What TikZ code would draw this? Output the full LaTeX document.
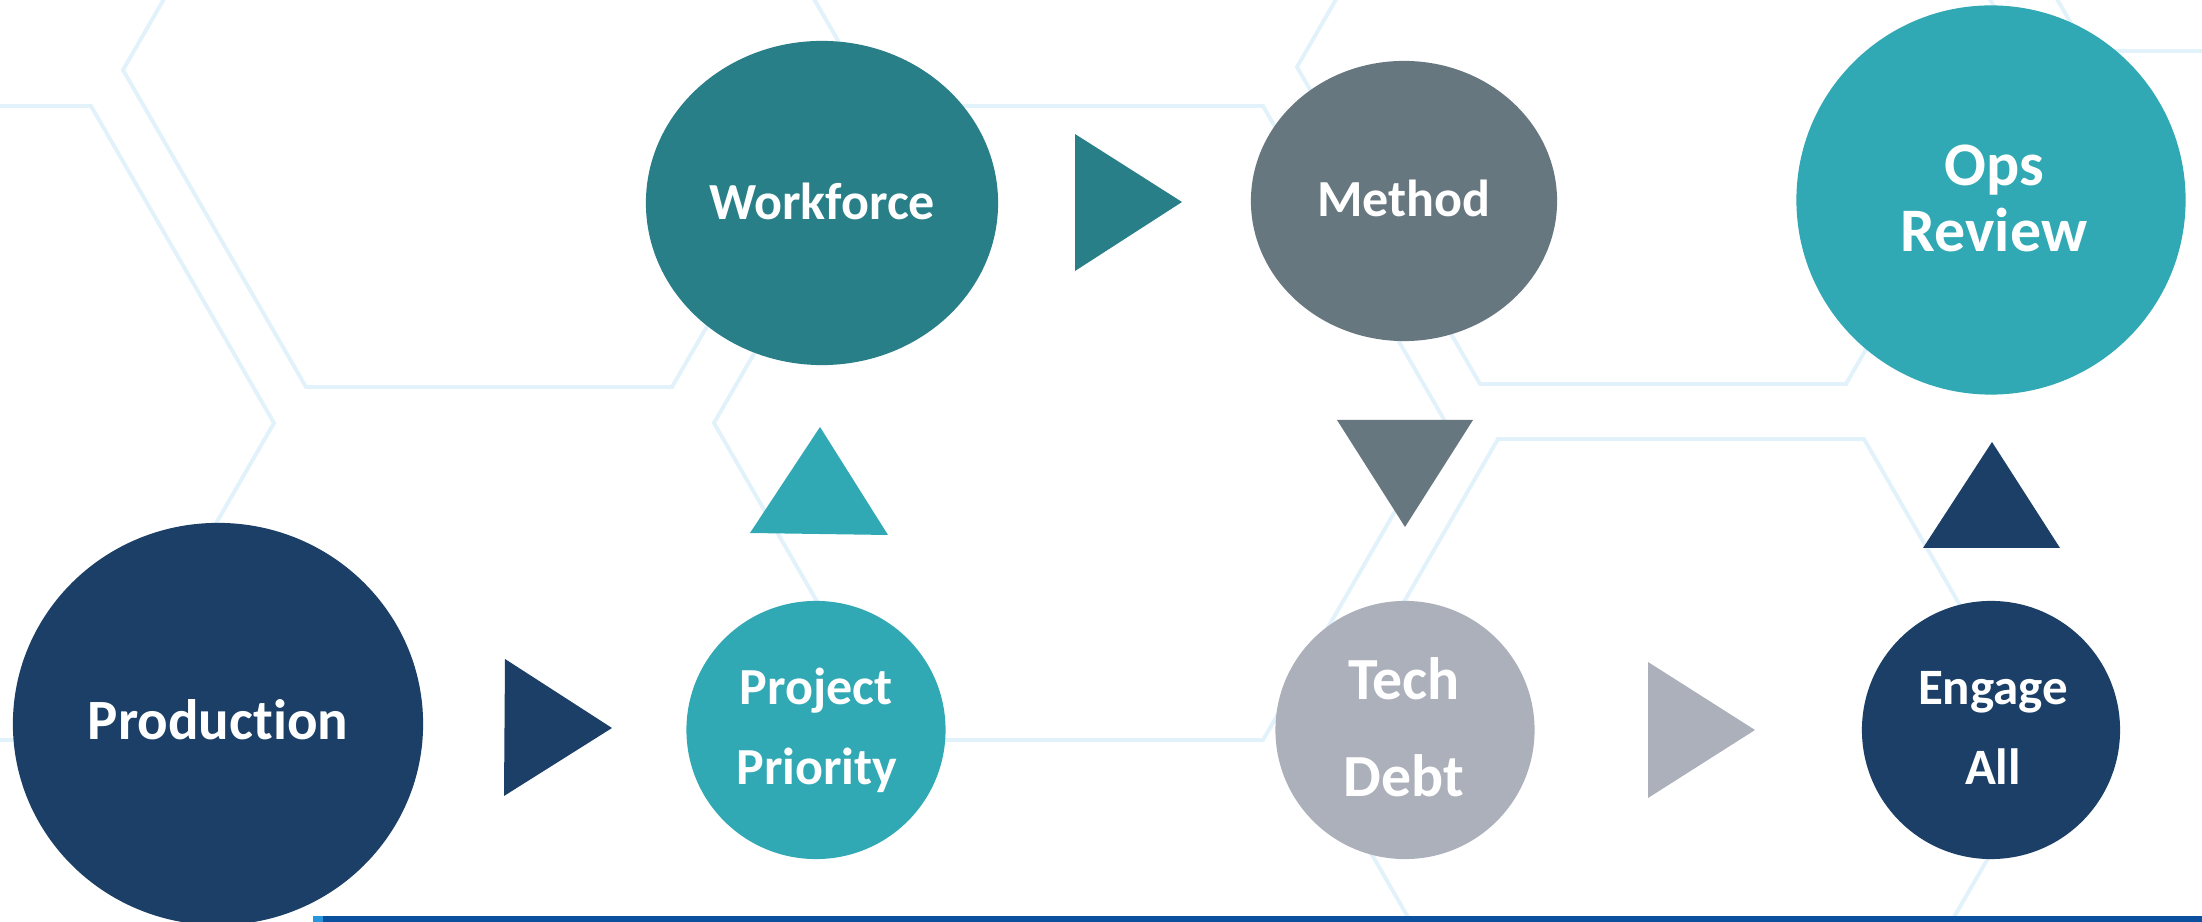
\documentclass[tikz,border=0pt]{standalone}
\usepackage{fontspec}
\setmainfont{Carlito}[Ligatures={NoCommon,NoRequired,NoContextual,NoDiscretionary}]
\usetikzlibrary{shapes.geometric}
\definecolor{navy}{RGB}{27,63,103}
\definecolor{tealdark}{RGB}{41,127,135}
\definecolor{slate}{RGB}{103,119,127}
\definecolor{aqua}{RGB}{48,169,180}
\definecolor{lightgray}{RGB}{172,176,186}
\definecolor{hexblue}{RGB}{226,242,251}
\definecolor{barblue}{RGB}{11,80,158}
\definecolor{barlight}{RGB}{40,150,220}
\newcommand{\hexat}[2]{%
  \draw[hexline] (#1+366,#2) -- (#1+183,#2+317) -- (#1-183,#2+317) -- (#1-366,#2) -- (#1-183,#2-317) -- (#1+183,#2-317) -- cycle;}
\begin{document}
\begin{tikzpicture}[x=0.01cm,y=-0.01cm,
  ell/.style={ellipse, inner sep=0pt, outer sep=0pt, draw=none},
  lbl/.style={text=white, inner sep=0pt, anchor=base},
  hexline/.style={draw=hexblue, line width=1.1pt, line join=miter},
  fs/.style={font=\fontsize{#1}{#1}\selectfont\bfseries}]
\useasboundingbox (0,0) rectangle (2202,922);
\fill[white] (0,0) rectangle (2202,922);
% background hexagons
\begin{scope}
\clip (0,0) rectangle (2202,922);
\hexat{-92}{423}
\hexat{489}{70}
\hexat{1080}{423}
\hexat{1663}{67}
\hexat{1681}{756}
\hexat{2270}{-266}
\end{scope}
% bottom bar
\fill[barblue] (323,916) rectangle (2202,922);
\fill[barlight] (313,916) rectangle (323,922);
% ellipses
\node[ell, fill=navy, minimum width=4.10cm, minimum height=4.02cm] (prod) at (218,724) {};
\node[ell, fill=tealdark, minimum width=3.52cm, minimum height=3.24cm] (work) at (822,203) {};
\node[ell, fill=slate, minimum width=3.06cm, minimum height=2.80cm] (meth) at (1404,201) {};
\node[ell, fill=aqua, minimum width=3.89cm, minimum height=3.89cm] (ops) at (1991,200) {};
\node[ell, fill=aqua, minimum width=2.59cm, minimum height=2.58cm] (proj) at (816,730) {};
\node[ell, fill=lightgray, minimum width=2.59cm, minimum height=2.58cm] (tech) at (1405,730) {};
\node[ell, fill=navy, minimum width=2.58cm, minimum height=2.58cm] (eng) at (1991,730) {};
% triangles
\fill[navy] (505,659) -- (612,728) -- (504,796) -- cycle;
\fill[tealdark] (1075,134) -- (1182,202) -- (1075,271) -- cycle;
\fill[lightgray] (1648,662) -- (1755,730) -- (1648,798) -- cycle;
\fill[aqua] (750,533) -- (820,427) -- (888,535) -- cycle;
\fill[slate] (1337,420) -- (1473,420) -- (1405,527) -- cycle;
\fill[navy] (1923,548) -- (1992,442) -- (2060,548) -- cycle;
% labels
\node[lbl, fs=16.2pt] (tprod) at (218,740) {Production};
\node[lbl, fs=14.8pt] (twork) at (822,220) {Workforce};
\node[lbl, fs=14.8pt] (tmeth) at (1404,217) {Method};
\node[lbl, fs=17.6pt] (tops1) at (1994,186) {Ops};
\node[lbl, fs=17.6pt] (tops2) at (1994,252) {Review};
\node[lbl, fs=14.8pt] (tproj1) at (816,705) {Project};
\node[lbl, fs=14.8pt] (tproj2) at (817,785) {Priority};
\node[lbl, fs=17pt] (ttech1) at (1404,700) {Tech};
\node[lbl, fs=17pt] (ttech2) at (1404,797) {Debt};
\node[lbl, fs=14.5pt] (teng1) at (1993,705) {Engage};
\node[lbl, fs=14.5pt] (teng2) at (1993,785) {All};
\end{tikzpicture}
\end{document}
